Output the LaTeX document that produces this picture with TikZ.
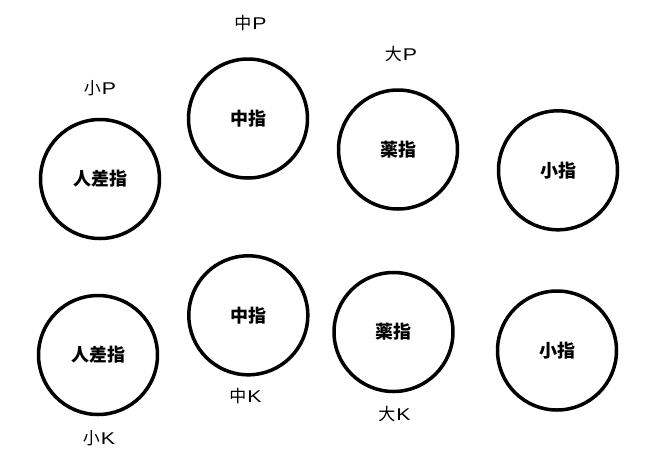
\documentclass[tikz,border=0pt]{standalone}
\usepackage{fontspec}
\setmainfont{Noto Sans CJK JP}
\newfontfamily\latinlabel{Liberation Sans}
\newcommand\wl[1]{\hspace{1pt}\scalebox{1.25}[1]{\latinlabel #1}}
\begin{document}
\begin{tikzpicture}[x=1pt,y=-1pt,
  finger/.style={circle,draw,line width=3.5pt,minimum size=119pt,inner sep=0pt,font=\fontsize{18}{22}\selectfont\bfseries},
  tag/.style={inner sep=0pt,font=\fontsize{17}{20}\selectfont}]
\useasboundingbox (0,0) rectangle (662,475);
\node[finger] (a1) at (100,179) {人差指};
\node[finger] (a2) at (248,118.5) {中指};
\node[finger] (a3) at (398,149.5) {薬指};
\node[finger] (a4) at (558,170.3) {小指};
\node[finger] (b1) at (98,355) {人差指};
\node[finger] (b2) at (248.3,315.3) {中指};
\node[finger] (b3) at (393.5,332) {薬指};
\node[finger] (b4) at (557,350.5) {小指};
\node[tag] (p1) at (100,88) {小\wl{P}};
\node[tag] (p2) at (250.5,23) {中\wl{P}};
\node[tag] (p3) at (401,54) {大\wl{P}};
\node[tag] (k2) at (245.5,396.5) {中\wl{K}};
\node[tag] (k3) at (394.5,414) {大\wl{K}};
\node[tag] (k1) at (99,438) {小\wl{K}};
\end{tikzpicture}
\end{document}
